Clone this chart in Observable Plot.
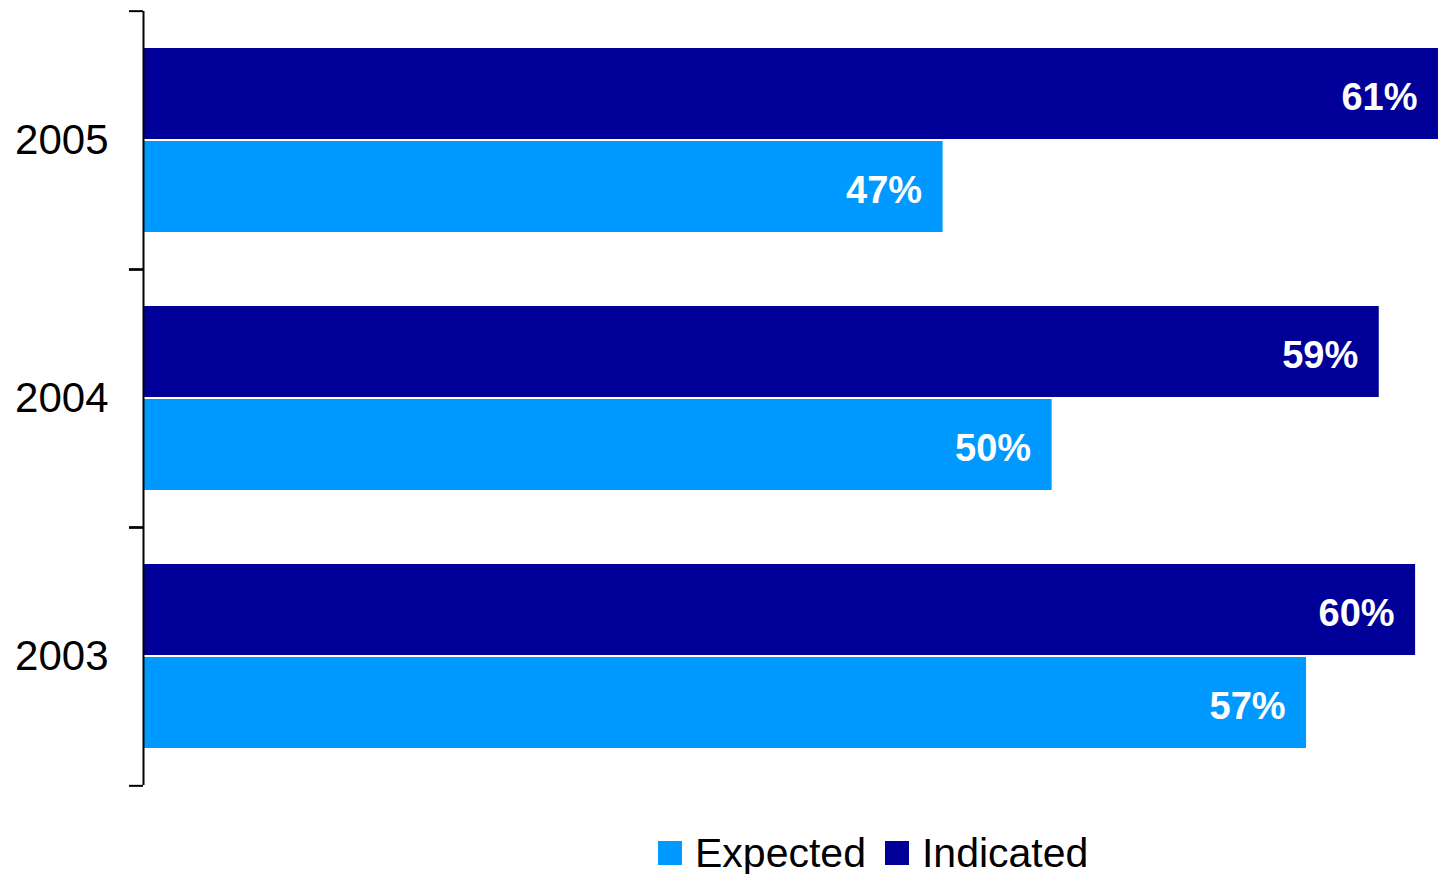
<!DOCTYPE html>
<html>
<head>
<meta charset="utf-8">
<script src="https://cdn.jsdelivr.net/npm/d3@7"></script>
<script src="https://cdn.jsdelivr.net/npm/@observablehq/plot@0.6"></script>
<style>
  html, body { margin: 0; padding: 0; background: #fff; overflow: hidden; }
  #chart svg { display: block; overflow: hidden; }
  .legend { display: flex; align-items: center; height: 42px; padding-top: 32px; padding-left: 658px;
            font-family: "Liberation Sans", Arial, sans-serif; font-size: 41px; color: #000; }
  .legend .sw { width: 24px; height: 24px; display: inline-block; margin-right: 13px; }
  .legend .item { display: flex; align-items: center; margin-right: 19px; }
</style>
</head>
<body>
<div id="chart"></div>
<div class="legend" id="legend"></div>
<script>
const years = ["2005", "2004", "2003"];
const seriesNames = ["Indicated", "Expected"];
const indicated = [61, 59, 60];
const expected = [47, 50, 57];
const colors = {Indicated: "#000099", Expected: "#0099FF"};

const data = [];
years.forEach((yr, i) => {
  data.push({year: yr, series: "Indicated", value: indicated[i]});
  data.push({year: yr, series: "Expected", value: expected[i]});
});

const W = 1438, H = 800, mt = 10, mb = 14;
const facetStep = (H - mt - mb) / years.length;

const chart = Plot.plot({
  width: W,
  height: H,
  marginLeft: 143,
  marginRight: 0,
  marginTop: mt,
  marginBottom: mb,
  style: {fontFamily: "'Liberation Sans', Arial, sans-serif", background: "#fff"},
  x: {domain: [25, 60.63], clamp: true, axis: null},
  y: {domain: seriesNames, paddingOuter: 0.39, paddingInner: 0.025, axis: null},
  fy: {domain: years, padding: 0, label: null},
  color: {domain: seriesNames, range: seriesNames.map(s => colors[s])},
  marks: [
    Plot.barX(data, {fy: "year", y: "series", x1: 25, x2: "value", fill: "series", clip: true}),
    Plot.text(data, {fy: "year", y: "series", x: "value", text: d => d.value + "%",
      textAnchor: "end", dx: -21, dy: 4, fill: "white", fontWeight: "bold", fontSize: 38}),
    Plot.ruleX([25], {stroke: "#000", strokeWidth: 2}),
    Plot.axisFy({anchor: "left", tickSize: 0, tickPadding: 35, fontSize: 42, label: null, fill: "#000"}),
    Plot.axisFy({anchor: "left", tickSize: 14, tickFormat: () => "", label: null, dy: -facetStep / 2, stroke: "#000", strokeWidth: 2}),
    Plot.axisFy({anchor: "left", tickSize: 14, tickFormat: () => "", label: null, dy: facetStep / 2, stroke: "#000", strokeWidth: 2})
  ]
});
document.getElementById("chart").appendChild(chart);

const legend = document.getElementById("legend");
["Expected", "Indicated"].forEach(s => {
  const item = document.createElement("div");
  item.className = "item";
  const sw = document.createElement("span");
  sw.className = "sw";
  sw.style.background = colors[s];
  const t = document.createElement("span");
  t.textContent = s;
  item.appendChild(sw);
  item.appendChild(t);
  legend.appendChild(item);
});
</script>
</body>
</html>
